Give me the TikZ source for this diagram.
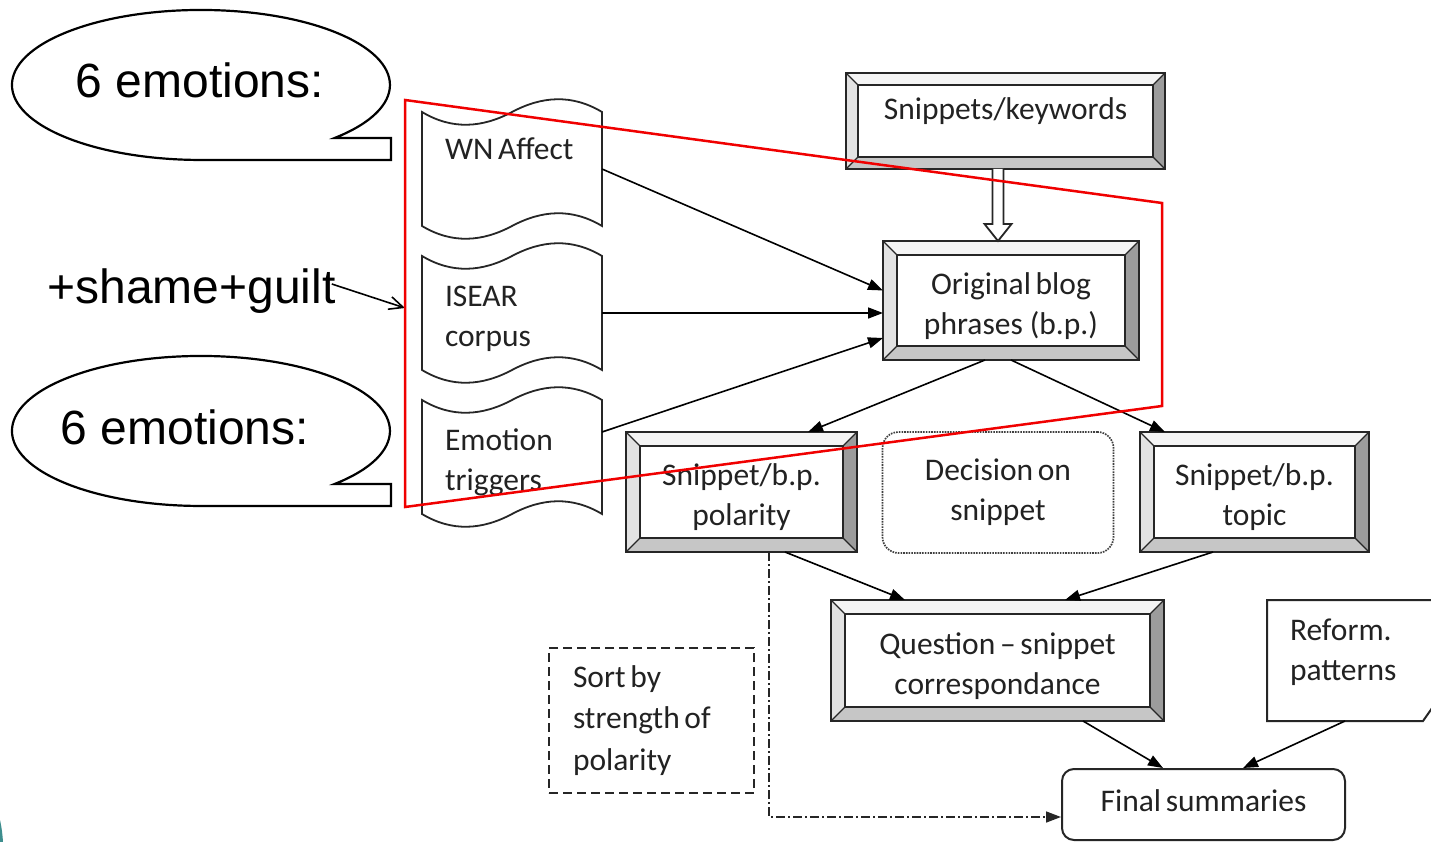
\documentclass[tikz,border=0pt]{standalone}
\usepackage{fontspec}
\setmainfont{Carlito}
\newfontfamily\calloutfont{Liberation Sans}
\usetikzlibrary{arrows.meta,calc}

\definecolor{bevtop}{HTML}{F4F4F4}
\definecolor{bevleft}{HTML}{E2E2E2}
\definecolor{bevright}{HTML}{9C9C9C}
\definecolor{bevbottom}{HTML}{C6C6C6}
\definecolor{boxtext}{HTML}{222222}
\definecolor{shellteal}{HTML}{3E8E8E}
\definecolor{framered}{HTML}{F00000}

% box lettering with a 40pt line pitch
\newcommand\diagfont{\fontsize{31.5}{40}\selectfont}
\newcommand\sortfont{\fontsize{31.5}{41.5}\selectfont}
\newcommand\bigfont{\calloutfont\fontsize{48}{56}\selectfont}
% narrow word gaps inside the boxes
\newcommand\tightwords{\spaceskip=.15em plus .04em minus .02em\relax}
\newcommand\tallstrut{\rule{0pt}{33pt}}

% bevelled frame around a named node: #1 node, #2 bevel width (pt)
\newcommand\bevelframe[2]{%
  \path (#1.north west) coordinate (o1) (#1.north east) coordinate (o2)
        (#1.south east) coordinate (o3) (#1.south west) coordinate (o4);
  \path ([shift={(#2pt,-#2pt)}]o1) coordinate (i1)
        ([shift={(-#2pt,-#2pt)}]o2) coordinate (i2)
        ([shift={(-#2pt,#2pt)}]o3) coordinate (i3)
        ([shift={(#2pt,#2pt)}]o4) coordinate (i4);
  \fill[bevtop] (o1)--(o2)--(i2)--(i1)--cycle;
  \fill[bevright] (o2)--(o3)--(i3)--(i2)--cycle;
  \fill[bevbottom] (o3)--(o4)--(i4)--(i3)--cycle;
  \fill[bevleft] (o4)--(o1)--(i1)--(i4)--cycle;
  \draw[boxline] (o1)--(o2)--(o3)--(o4)--cycle;
  \draw[boxline] (i1)--(i2)--(i3)--(i4)--cycle;
  \draw[boxline, line width=1.2pt] (o1)--(i1) (o2)--(i2) (o3)--(i3) (o4)--(i4);
}

% punched-tape outline around a named node
\newcommand\tapeoutline[1]{%
  \draw[boxline, line width=1.8pt] (#1.north west)
    .. controls ([shift={(30pt,-18pt)}]#1.north west) and ([shift={(60pt,-16pt)}]#1.north west) .. ([xshift=90pt]#1.north west)
    .. controls ([shift={(120pt,16pt)}]#1.north west) and ([shift={(150pt,18pt)}]#1.north west) .. (#1.north east)
    -- (#1.south east)
    .. controls ([shift={(-30pt,18pt)}]#1.south east) and ([shift={(-60pt,16pt)}]#1.south east) .. ([xshift=-90pt]#1.south east)
    .. controls ([shift={(-120pt,-16pt)}]#1.south east) and ([shift={(-150pt,-18pt)}]#1.south east) .. (#1.south west)
    -- cycle;
}

\tikzset{
  boxline/.style={draw=black!85, line width=2pt, line join=miter},
  bevelbox/.style={rectangle, fill=white, inner sep=0pt, outer sep=0pt,
    font=\diagfont, text=boxtext, align=center},
  tapebox/.style={rectangle, inner xsep=23pt, inner ysep=0pt, outer sep=0pt,
    minimum width=180pt, minimum height=114pt, text width=134pt,
    font=\diagfont, text=boxtext, align=left},
  flow/.style={draw=black, line width=1.6pt, -{Triangle[length=15pt,width=11pt]}},
  callout/.style={draw=black, line width=2.2pt, fill=white},
  redframe/.style={draw=framered, line width=2.5pt, line join=miter},
}

\begin{document}
\begin{tikzpicture}[x=1pt, y=-1pt]
\useasboundingbox (0,0) rectangle (1431,842);
\clip (0,0) rectangle (1431,842);
\fill[white] (0,0) rectangle (1431,842);

% slide edge ornament
\fill[shellteal] (0,820) .. controls (2,829) and (2.6,836) .. (3,842) -- (0,842) -- cycle;

% speech callouts
\draw[callout] (334.6,138) arc[start angle=-45, end angle=270, x radius=189pt, y radius=75pt]
  -- (391,160) -- (391,138) -- cycle;
\node[font=\bigfont] (c1) at (200,80) {6 emotions:};
\draw[callout] (334.6,484) arc[start angle=-45, end angle=270, x radius=189pt, y radius=75pt]
  -- (391,506) -- (391,484) -- cycle;
\node[font=\bigfont] (c2) at (185,427) {6 emotions:};

\node[font=\bigfont, inner sep=0pt] (sg) at (191.5,291) {+shame+guilt};
\coordinate (redL) at (405,308);
\draw[line width=1.6pt, -{Straight Barb[length=14pt,width=13pt]}]
  ([shift={(-4pt,7pt)}]sg.east) -- (redL);

% lexical resources
\node[tapebox] (wn) at (512,169) {\tightwords WN Affect\\\mbox{}};
\node[tapebox] (isear) at (512,313) {\tallstrut ISEAR\\corpus};
\node[tapebox] (emo) at (512,457) {\tallstrut Emotion\\triggers};
\tapeoutline{wn}
\tapeoutline{isear}
\tapeoutline{emo}

% processing boxes
\node[bevelbox, minimum width=319pt, minimum height=96pt, text height=22pt, text depth=25pt]
  (snip) at (1005.5,121) {Snippets/keywords};
\bevelframe{snip}{12}
\node[bevelbox, minimum width=256pt, minimum height=119pt] (orig) at (1011,300.5)
  {\tightwords\tallstrut Original blog\\phrases (b.p.)};
\bevelframe{orig}{14}
\node[bevelbox, minimum width=231pt, minimum height=120pt] (pol) at (741.5,492)
  {\tallstrut Snippet/b.p.\\polarity};
\bevelframe{pol}{14}
\node[bevelbox, minimum width=229pt, minimum height=120pt] (topic) at (1254.5,492)
  {\tallstrut Snippet/b.p.\\topic};
\bevelframe{topic}{14}
\node[bevelbox, minimum width=333pt, minimum height=121pt] (ques) at (997.5,660.5)
  {\tightwords\tallstrut Question -- snippet\\correspondance};
\bevelframe{ques}{14}

\node[rectangle, rounded corners=16pt, draw=black!75, line width=1.7pt,
  dash pattern=on 1.6pt off 1.1pt, minimum width=231pt, minimum height=121pt,
  font=\diagfont, text=boxtext, align=center] (dec) at (998,492.5)
  {\tightwords Decision on\\snippet};

\node[rectangle, draw=black!85, line width=1.8pt, dash pattern=on 9pt off 5pt,
  minimum width=205pt, minimum height=145pt, inner xsep=24pt, text width=157pt,
  font=\sortfont, text=boxtext, align=left]
  (sort) at (651.5,720.5) {\tightwords Sort by\\strength of\\polarity};

\node[rectangle, rounded corners=12pt, draw=black!85, line width=2pt,
  minimum width=283pt, minimum height=71pt, font=\diagfont, text=boxtext]
  (fin) at (1203.5,804.5) {\tightwords\raisebox{8pt}{Final summaries}};

\node[rectangle, inner xsep=23pt, inner ysep=0pt, outer sep=0pt, minimum width=164pt,
  minimum height=104pt, text width=118pt, font=\diagfont, text=boxtext, align=left]
  (reform) at (1349,652) {Reform.\\patterns};
\draw[boxline] ([xshift=10pt]reform.north east) -- (reform.north west)
  -- ([yshift=-17pt]reform.south west) -- ([shift={(-8pt,-17pt)}]reform.south east)
  -- ([shift={(6pt,3pt)}]reform.south east);

% block arrow from keywords to blog phrases
\path (998,0 |- snip.south) coordinate (ba1) (998,0 |- orig.north) coordinate (ba2);
\draw[boxline, line width=1.8pt, fill=white]
  ([xshift=-5.5pt]ba1) -- ($(ba2)+(-5.5,-17)$) -- ($(ba2)+(-13.5,-17)$) -- (ba2)
  -- ($(ba2)+(13.5,-17)$) -- ($(ba2)+(5.5,-17)$) -- ([xshift=5.5pt]ba1);

% connectors
\draw[flow] (wn.east) -- ([yshift=10pt]orig.west);
\draw[flow] (isear.east) -- ([yshift=-12.5pt]orig.west);
\draw[flow] ([yshift=25pt]emo.east) -- ([yshift=-37.5pt]orig.west);
\draw[flow] ([xshift=-26pt]orig.south) -- ([xshift=66.5pt]pol.north);
\draw[flow] (orig.south) -- ([xshift=-89.5pt]topic.north);
\draw[flow] ([xshift=43.5pt]pol.south) -- ([xshift=-92.5pt]ques.north);
\draw[flow] ([xshift=-41.5pt]topic.south) -- ([xshift=67.5pt]ques.north);
\draw[flow] ([xshift=85.5pt]ques.south) -- ([xshift=-40.5pt]fin.north);
\draw[flow] ([shift={(-4pt,-17pt)}]reform.south) -- ([xshift=39.5pt]fin.north);
\draw[draw=black!85, line width=1.6pt, dash pattern=on 9pt off 3pt on 2pt off 3pt,
  -{Triangle[length=15pt,width=11pt]}]
  (769,0 |- pol.south) -- (769,817) -- (fin.west |- 0,817);

% highlighted region
\draw[redframe] (405,100) -- (1162,203) -- (1162,406) -- (405,507) -- cycle;
\end{tikzpicture}
\end{document}
